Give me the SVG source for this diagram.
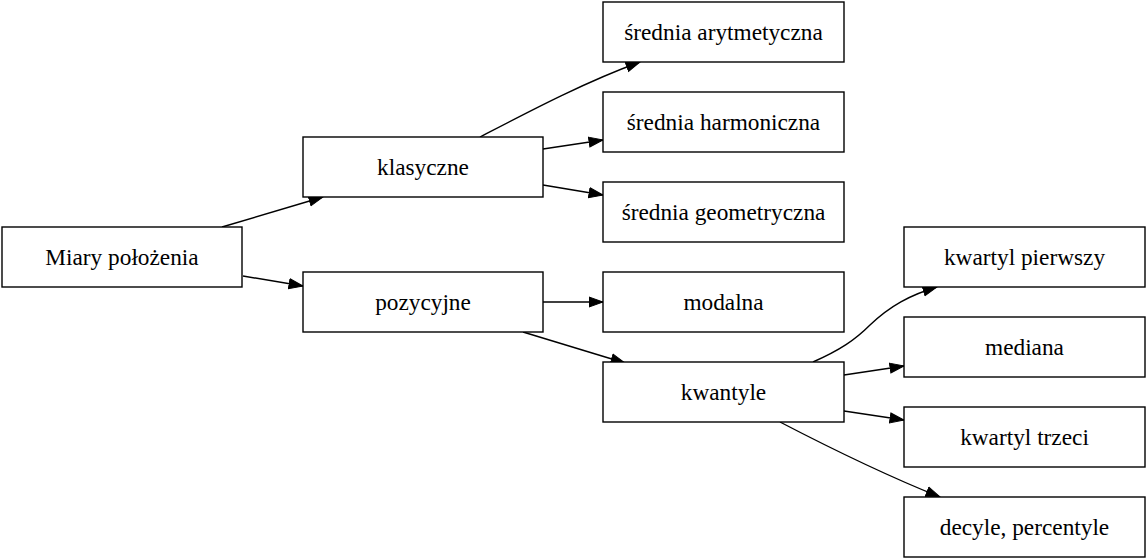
<svg xmlns="http://www.w3.org/2000/svg" width="1146" height="559" viewBox="0 0 1146 559">
<style>
.n rect{fill:#fff;stroke:#000;stroke-width:1.4}
.n text{font-family:"Liberation Serif","Times New Roman",serif;font-size:23.3px;text-anchor:middle;fill:#000}
.e path{fill:none;stroke:#000;stroke-width:1.4}
</style>
<defs>
<marker id="ah" markerWidth="16" markerHeight="12" refX="14.5" refY="6" orient="auto" markerUnits="userSpaceOnUse">
<path d="M0.5,1 L14.5,6 L0.5,11 Z" fill="#000" stroke="#000" stroke-width="1"/>
</marker>
</defs>
<rect width="1146" height="559" fill="#fff"/>
<g class="e" id="edges">
<path d="M222,227 L323,197" marker-end="url(#ah)"/>
<path d="M243,276 L303,286" marker-end="url(#ah)"/>
<path d="M480,137 C530,111 585,82 640,62" marker-end="url(#ah)"/>
<path d="M543,149 L603,140" marker-end="url(#ah)"/>
<path d="M543,185 L603,195" marker-end="url(#ah)"/>
<path d="M543,302 L603,302" marker-end="url(#ah)"/>
<path d="M523,332 L625,363" marker-end="url(#ah)"/>
<path d="M813,362 C840,350 855,340 870,325 C890,306 910,295 937,287" marker-end="url(#ah)"/>
<path d="M844,375 L904,366" marker-end="url(#ah)"/>
<path d="M844,411 L904,420" marker-end="url(#ah)"/>
<path d="M780,422 C830,448 880,473 940,497" marker-end="url(#ah)"/>
</g>
<g class="n" id="miary"><rect x="2" y="227" width="240" height="60"/><text x="122" y="265">Miary położenia</text></g>
<g class="n" id="klasyczne"><rect x="303" y="137" width="240" height="60"/><text x="423" y="175">klasyczne</text></g>
<g class="n" id="pozycyjne"><rect x="303" y="272" width="240" height="60"/><text x="423" y="310">pozycyjne</text></g>
<g class="n" id="arytm"><rect x="603" y="2" width="241" height="60"/><text x="723.5" y="40">średnia arytmetyczna</text></g>
<g class="n" id="harm"><rect x="603" y="92" width="241" height="60"/><text x="723.5" y="130">średnia harmoniczna</text></g>
<g class="n" id="geom"><rect x="603" y="182" width="241" height="60"/><text x="723.5" y="220">średnia geometryczna</text></g>
<g class="n" id="modalna"><rect x="603" y="272" width="241" height="60"/><text x="723.5" y="310">modalna</text></g>
<g class="n" id="kwantyle"><rect x="603" y="362" width="241" height="60"/><text x="723.5" y="400">kwantyle</text></g>
<g class="n" id="kw1"><rect x="904" y="227" width="241" height="60"/><text x="1024.5" y="265">kwartyl pierwszy</text></g>
<g class="n" id="mediana"><rect x="904" y="317" width="241" height="60"/><text x="1024.5" y="355">mediana</text></g>
<g class="n" id="kw3"><rect x="904" y="407" width="241" height="60"/><text x="1024.5" y="445">kwartyl trzeci</text></g>
<g class="n" id="decyle"><rect x="904" y="497" width="241" height="60"/><text x="1024.5" y="535">decyle, percentyle</text></g>
</svg>
